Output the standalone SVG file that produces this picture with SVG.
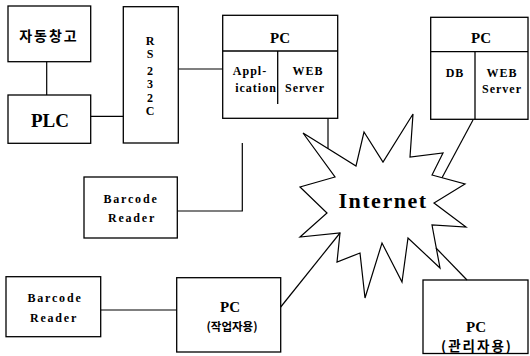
<svg xmlns="http://www.w3.org/2000/svg" width="530" height="356" viewBox="0 0 530 356">
<style>
.b{fill:none;stroke:#000;stroke-width:1.3}
.l{fill:none;stroke:#000;stroke-width:1.2}
.t{font-family:"Liberation Serif","Times New Roman",serif;font-weight:bold;fill:#000;text-anchor:middle}
.k{font-family:"Noto Sans CJK KR","Noto Sans",sans-serif;font-weight:bold;fill:#000;text-anchor:middle}
</style>
<rect width="530" height="356" fill="#fff"/>
<g id="connectors">
<line class="l" x1="46.7" y1="61.7" x2="46.7" y2="95"/>
<line class="l" x1="90.7" y1="116.3" x2="123.3" y2="116.3"/>
<line class="l" x1="178.3" y1="69" x2="222.7" y2="69"/>
<polyline class="l" points="177.3,211 242.3,211 242.3,143"/>
<line class="l" x1="100.7" y1="310" x2="176.7" y2="310"/>
<line class="l" x1="328" y1="118.3" x2="328" y2="148.6"/>
<line class="l" x1="473" y1="120" x2="442" y2="177.7"/>
<line class="l" x1="280.7" y1="307" x2="340" y2="233"/>
<line class="l" x1="467" y1="280" x2="436" y2="248"/>
</g>
<g id="agv">
<rect class="b" x="8" y="6" width="82.7" height="55.7"/>
<text class="k" x="49" y="41" font-size="14" letter-spacing="2">자동창고</text>
</g>
<g id="plc">
<rect class="b" x="8" y="95" width="82.7" height="48.3"/>
<text class="t" x="50" y="127" font-size="19">PLC</text>
</g>
<g id="rs232c">
<rect class="b" x="123.3" y="6.7" width="55" height="136.3"/>
<text class="t" font-size="12"><tspan x="150" y="45">R</tspan><tspan x="150" y="58">S</tspan><tspan x="150" y="75">2</tspan><tspan x="150" y="88">3</tspan><tspan x="150" y="102">2</tspan><tspan x="150" y="115">C</tspan></text>
</g>
<g id="pc-app">
<rect class="b" x="222.7" y="15.3" width="115" height="103"/>
<line class="b" x1="222.7" y1="51" x2="337.7" y2="51"/>
<line class="b" x1="277.7" y1="51" x2="277.7" y2="104"/>
<text class="t" x="280" y="43" font-size="15">PC</text>
<text class="t" x="250" y="75" font-size="12" letter-spacing="1">Appl-</text>
<text class="t" x="256" y="92" font-size="12" letter-spacing="1">ication</text>
<text class="t" x="308" y="75" font-size="12" letter-spacing="1">WEB</text>
<text class="t" x="305" y="92" font-size="12" letter-spacing="1">Server</text>
</g>
<g id="pc-db">
<rect class="b" x="430.7" y="17.3" width="97.3" height="102"/>
<line class="b" x1="430.7" y1="51.7" x2="528" y2="51.7"/>
<line class="b" x1="475" y1="51.7" x2="475" y2="119.3"/>
<text class="t" x="481" y="43" font-size="15">PC</text>
<text class="t" x="455" y="77" font-size="12" letter-spacing="1">DB</text>
<text class="t" x="502" y="77" font-size="12" letter-spacing="1">WEB</text>
<text class="t" x="502" y="93" font-size="12" letter-spacing="1">Server</text>
</g>
<g id="barcode1">
<rect class="b" x="84" y="177" width="93.3" height="61"/>
<text class="t" x="131" y="203" font-size="12" letter-spacing="1.8">Barcode</text>
<text class="t" x="132" y="222" font-size="12" letter-spacing="1.8">Reader</text>
</g>
<g id="barcode2">
<rect class="b" x="6" y="276.7" width="94.7" height="60"/>
<text class="t" x="55" y="301.7" font-size="12" letter-spacing="1.8">Barcode</text>
<text class="t" x="54" y="321.7" font-size="12" letter-spacing="1.8">Reader</text>
</g>
<g id="pc-worker">
<rect class="b" x="176.7" y="277.7" width="104" height="74.3"/>
<text class="t" x="230" y="312" font-size="15" font-weight="normal">PC</text>
<text class="k" x="232" y="331" font-size="11.5">(작업자용)</text>
</g>
<g id="pc-admin">
<rect class="b" x="423" y="280" width="105" height="73.5"/>
<text class="t" x="476" y="332" font-size="15" font-weight="normal">PC</text>
<text class="k" x="477" y="351" font-size="13.5" letter-spacing="2">(관리자용)</text>
</g>
<g id="internet">
<polygon class="l" points="432,175 465,184 434,203 466,227 432,225 440,268 408,238 402,282 382,243 365,298 360,253 337,262 340,233 300,237 327,213 300,187 335,177 303,133 356,166 364,132 383,162 413,114 410,157 443,153"/>
<text class="t" x="383" y="208" font-size="22" letter-spacing="1.5">Internet</text>
</g>
</svg>
